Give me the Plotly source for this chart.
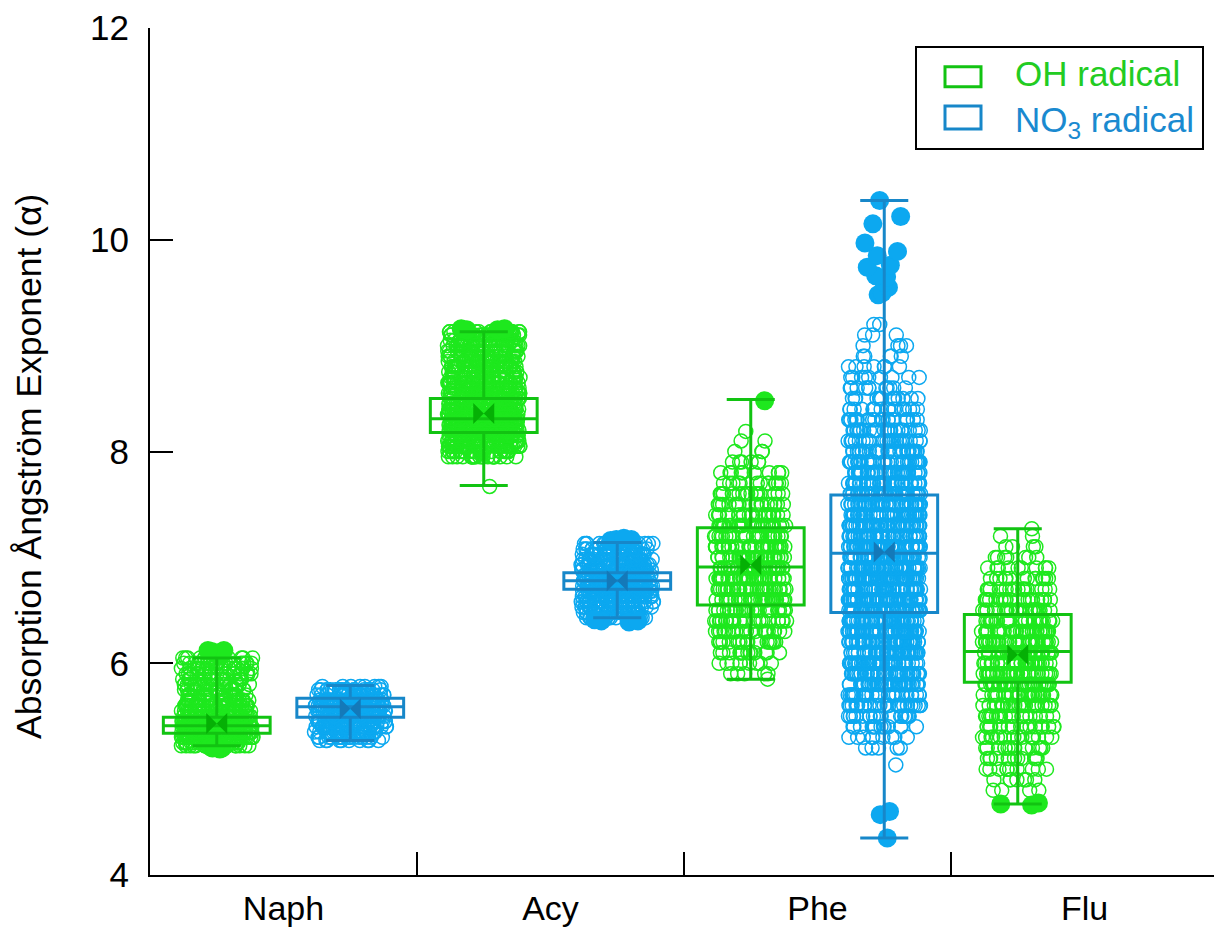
import numpy as np
import plotly.graph_objects as go

# ---------------- data ----------------
categories = ["Naph", "Acy", "Phe", "Flu"]
series_names = ["OH radical", "NO<sub>3</sub> radical"]

# box statistics (one entry per category)
oh_q1 = [5.34, 8.18, 6.55, 5.82]
oh_median = [5.41, 8.31, 6.91, 6.11]
oh_q3 = [5.49, 8.50, 7.28, 6.46]
oh_lower = [5.22, 7.68, 5.85, 4.67]
oh_upper = [6.05, 9.13, 8.49, 7.27]
oh_mean = [5.43, 8.36, 6.93, 6.08]

no3_q1 = [5.49, 6.70, 6.48]
no3_median = [5.59, 6.78, 7.04]
no3_q3 = [5.67, 6.855, 7.59]
no3_lower = [5.27, 6.43, 4.35]
no3_upper = [5.79, 7.14, 10.37]
no3_mean = [5.57, 6.78, 7.05]

# point clouds: alpha level and number of samples at that level
naph_oh_levels = [5.22, 5.25, 5.30, 5.35, 5.40, 5.45, 5.50, 5.55, 5.60, 5.65, 5.70, 5.75, 5.80, 5.85, 5.90, 5.95, 6.00, 6.05]
naph_oh_counts = [16, 24, 40, 60, 60, 50, 40, 32, 26, 22, 20, 18, 18, 18, 18, 18, 18, 14]
naph_oh_outliers = [5.19, 5.20, 5.20, 5.21, 5.21, 6.08, 6.09, 6.10, 6.10, 6.11, 6.12, 6.12]

naph_no3_levels = [5.27, 5.30, 5.35, 5.40, 5.45, 5.50, 5.55, 5.60, 5.65, 5.70, 5.75, 5.78]
naph_no3_counts = [10, 18, 24, 28, 32, 36, 40, 36, 32, 26, 18, 8]
naph_no3_outliers = []

acy_oh_levels = [7.67, 7.95, 8.00, 8.05, 8.10, 8.15, 8.20, 8.25, 8.30, 8.35, 8.40, 8.45, 8.50, 8.55, 8.60, 8.65, 8.70, 8.75, 8.80, 8.85, 8.90, 8.95, 9.00, 9.05, 9.10, 9.13]
acy_oh_counts = [1, 22, 28, 32, 36, 40, 45, 50, 50, 48, 45, 40, 36, 32, 30, 28, 26, 25, 25, 24, 24, 24, 24, 24, 24, 18]
acy_oh_outliers = [9.15, 9.15, 9.16, 9.16]

acy_no3_levels = [6.43, 6.48, 6.53, 6.58, 6.63, 6.68, 6.73, 6.78, 6.83, 6.88, 6.93, 6.98, 7.03, 7.08, 7.13]
acy_no3_counts = [18, 22, 26, 30, 35, 40, 45, 45, 40, 35, 30, 26, 24, 22, 18]
acy_no3_outliers = [6.39, 6.40, 6.40, 6.41, 7.16, 7.17, 7.17, 7.18]

phe_oh_levels = [5.85, 5.9, 6.0, 6.1, 6.2, 6.3, 6.4, 6.5, 6.6, 6.7, 6.8, 6.9, 7.0, 7.1, 7.2, 7.3, 7.4, 7.5, 7.6, 7.7, 7.8, 7.9, 8.0, 8.1, 8.19]
phe_oh_counts = [1, 5, 9, 14, 18, 22, 26, 30, 32, 34, 36, 36, 34, 32, 30, 27, 24, 20, 17, 13, 10, 6, 3, 2, 1]
phe_oh_outliers = [8.48]

phe_no3_levels = [5.04, 5.2, 5.3, 5.4, 5.5, 5.6, 5.7, 5.8, 5.9, 6.0, 6.1, 6.2, 6.3, 6.4, 6.5, 6.6, 6.7, 6.8, 6.9, 7.0, 7.1, 7.2, 7.3, 7.4, 7.5, 7.6, 7.7, 7.8, 7.9, 8.0, 8.1, 8.2, 8.3, 8.4, 8.5, 8.6, 8.7, 8.8, 8.9, 9.0, 9.1, 9.2]
phe_no3_counts = [1, 5, 9, 14, 20, 26, 32, 38, 42, 46, 50, 52, 54, 56, 57, 58, 58, 58, 58, 57, 56, 54, 52, 50, 47, 44, 40, 37, 34, 30, 27, 24, 20, 17, 14, 11, 9, 7, 5, 4, 3, 2]
phe_no3_outliers = [4.35, 4.57, 4.60, 9.48, 9.50, 9.55, 9.60, 9.65, 9.66, 9.74, 9.76, 9.85, 9.89, 9.97, 10.15, 10.22, 10.37]

flu_oh_levels = [4.8, 4.9, 5.0, 5.1, 5.2, 5.3, 5.4, 5.5, 5.6, 5.7, 5.8, 5.9, 6.0, 6.1, 6.2, 6.3, 6.4, 6.5, 6.6, 6.7, 6.8, 6.9, 7.0, 7.1, 7.2, 7.27]
flu_oh_counts = [4, 7, 10, 12, 14, 16, 18, 21, 24, 27, 30, 33, 35, 35, 34, 32, 29, 26, 22, 18, 14, 10, 7, 4, 2, 1]
flu_oh_outliers = [4.66, 4.67, 4.68]

oh_clouds = [(naph_oh_levels, naph_oh_counts, naph_oh_outliers),
             (acy_oh_levels, acy_oh_counts, acy_oh_outliers),
             (phe_oh_levels, phe_oh_counts, phe_oh_outliers),
             (flu_oh_levels, flu_oh_counts, flu_oh_outliers)]
no3_clouds = [(naph_no3_levels, naph_no3_counts, naph_no3_outliers),
              (acy_no3_levels, acy_no3_counts, acy_no3_outliers),
              (phe_no3_levels, phe_no3_counts, phe_no3_outliers)]

# ---------------- styling ----------------
FONT = "Arial, Liberation Sans, sans-serif"
OH_PT, OH_LINE, OH_MEAN, OH_TXT = "#1ee81e", "#12c312", "#05b005", "#22cc22"
NO3_PT, NO3_LINE, NO3_MEAN, NO3_TXT = "#0ca8f0", "#1787c9", "#1479b9", "#1a8ad0"
OFFSET = 0.25
BOXW = 0.40

fig = go.Figure()


def add_series(clouds, q1, med, q3, lo, hi, mean, sign, pcol, lcol, mcol):
    idx = np.arange(len(clouds))
    pos = idx + sign * OFFSET
    for p, (levels, counts, outl) in zip(pos, clouds):
        vals = np.repeat(np.array(levels, dtype=float), counts)
        fig.add_trace(go.Box(
            y=vals, x0=p, width=BOXW, boxpoints="all", jitter=0.68, pointpos=0,
            fillcolor="rgba(0,0,0,0)", line=dict(width=0, color="rgba(0,0,0,0)"),
            whiskerwidth=0,
            marker=dict(symbol="circle-open", size=14, color=pcol,
                        line=dict(width=1.5, color=pcol)),
            hoveron="points", showlegend=False))
        if len(outl):
            fig.add_trace(go.Box(
                y=outl, x0=p, width=BOXW, boxpoints="all", jitter=0.5, pointpos=0,
                fillcolor="rgba(0,0,0,0)", line=dict(width=0, color="rgba(0,0,0,0)"),
                whiskerwidth=0,
                marker=dict(symbol="circle", size=19, color=pcol),
                hoveron="points", showlegend=False))
    fig.add_trace(go.Box(
        x=list(pos), q1=q1, median=med, q3=q3, lowerfence=lo, upperfence=hi,
        width=BOXW, boxpoints=False, whiskerwidth=0.45,
        fillcolor="rgba(0,0,0,0)", line=dict(color=lcol, width=3),
        showlegend=False))
    fig.add_trace(go.Scatter(
        x=list(pos), y=mean, mode="markers",
        marker=dict(symbol="bowtie", size=21, color=mcol, line=dict(width=0)),
        showlegend=False))


add_series(oh_clouds, oh_q1, oh_median, oh_q3, oh_lower, oh_upper, oh_mean,
           -1, OH_PT, OH_LINE, OH_MEAN)
add_series(no3_clouds, no3_q1, no3_median, no3_q3, no3_lower, no3_upper, no3_mean,
           +1, NO3_PT, NO3_LINE, NO3_MEAN)

# plot area in pixels: x 150..1214, y 28..875
L, R, T, B = 150, 1214, 28, 875


def px(x):
    return (x - L) / (R - L)


def py(y):
    return (B - y) / (B - T)


fig.update_layout(
    width=1214, height=929,
    margin=dict(l=L, r=1214 - R, t=T, b=929 - B, pad=0),
    plot_bgcolor="white", paper_bgcolor="white",
    showlegend=False, boxmode="overlay",
    font=dict(family=FONT, size=34, color="black"),
    xaxis=dict(range=[-0.5, 3.485], tickmode="array", tickvals=list(range(len(categories))),
               ticktext=categories, ticks="", showline=True, linecolor="black", linewidth=2,
               showgrid=False, zeroline=False, tickfont=dict(size=34),
               ticklabelstandoff=2, automargin=False,
               minor=dict(tickmode="array", tickvals=[0.5, 1.5, 2.5], ticks="inside",
                          ticklen=23, tickwidth=2, tickcolor="black", showgrid=False)),
    yaxis=dict(range=[4, 12], tickmode="array", tickvals=[4, 6, 8, 10, 12],
               ticks="inside", ticklen=23, tickwidth=2, tickcolor="black",
               showline=True, linecolor="black", linewidth=2,
               showgrid=False, zeroline=False, tickfont=dict(size=35),
               ticklabelstandoff=12, automargin=False),
)

# y-axis title
fig.add_annotation(text="Absorption Ångström Exponent (α)", xref="paper", yref="paper",
                   x=0, xshift=-(L - 29), y=0.4817, textangle=-90, showarrow=False,
                   xanchor="center", yanchor="middle", font=dict(size=35.5, family=FONT))

# legend (drawn by hand)
fig.add_shape(type="rect", xref="paper", yref="paper", x0=px(916), x1=px(1203),
              y0=py(149), y1=py(47), line=dict(color="black", width=2), fillcolor="white",
              layer="above")
fig.add_shape(type="rect", xref="paper", yref="paper", x0=px(945), x1=px(981),
              y0=py(86.7), y1=py(66.7), line=dict(color=OH_LINE, width=3), layer="above")
fig.add_shape(type="rect", xref="paper", yref="paper", x0=px(945), x1=px(981),
              y0=py(129), y1=py(106), line=dict(color=NO3_LINE, width=3), layer="above")
fig.add_annotation(text=series_names[0], xref="paper", yref="paper", x=px(1013), y=py(74),
                   xanchor="left", yanchor="middle", showarrow=False,
                   font=dict(size=35, color=OH_TXT, family=FONT))
fig.add_annotation(text=series_names[1], xref="paper", yref="paper", x=px(1013), y=py(122),
                   xanchor="left", yanchor="middle", showarrow=False,
                   font=dict(size=35, color=NO3_TXT, family=FONT))

fig.write_html("out.html", config={"displayModeBar": False},
               post_script="document.body.style.margin='0px';document.body.style.overflow='hidden';")
